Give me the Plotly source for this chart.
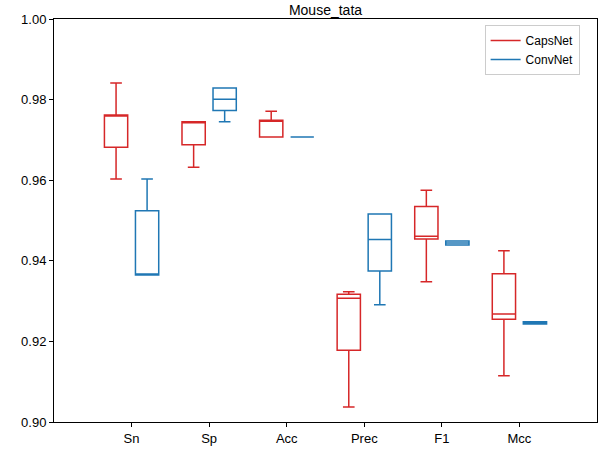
import plotly.graph_objects as go

# Datos (estadisticos de cada caja)
categorias = ["Sn", "Sp", "Acc", "Prec", "F1", "Mcc"]

caps_min = [0.9603, 0.9632, 0.9707, 0.9037, 0.9348, 0.9115]
caps_q1 = [0.9682, 0.9688, 0.9707, 0.9178, 0.9454, 0.9255]
caps_med = [0.9762, 0.9745, 0.9749, 0.9307, 0.9461, 0.9268]
caps_q3 = [0.9762, 0.9745, 0.9749, 0.9317, 0.9535, 0.9368]
caps_max = [0.9841, 0.9745, 0.9771, 0.9323, 0.9575, 0.9425]

conv_min = [0.9365, 0.9745, 0.9707, 0.9291, 0.9439, 0.9243]
conv_q1 = [0.9365, 0.9773, 0.9707, 0.9375, 0.9439, 0.9243]
conv_med = [0.9365, 0.9801, 0.9707, 0.9453, 0.9444, 0.9246]
conv_q3 = [0.9524, 0.9829, 0.9707, 0.9516, 0.9449, 0.9249]
conv_max = [0.9603, 0.9829, 0.9707, 0.9516, 0.9449, 0.9249]

rojo = "#d62728"
azul = "#1f77b4"

trace1 = go.Box(x=categorias, q1=caps_q1, median=caps_med, q3=caps_q3,
                lowerfence=caps_min, upperfence=caps_max, name="CapsNet",
                line=dict(color=rojo, width=1.5), fillcolor="rgba(0,0,0,0)",
                whiskerwidth=0.5, showlegend=False)
trace2 = go.Box(x=categorias, q1=conv_q1, median=conv_med, q3=conv_q3,
                lowerfence=conv_min, upperfence=conv_max, name="ConvNet",
                line=dict(color=azul, width=1.5), fillcolor="rgba(0,0,0,0)",
                whiskerwidth=0.5, showlegend=False)
# lineas solo para la leyenda
leg1 = go.Scatter(x=[None], y=[None], mode="lines", name="CapsNet", line=dict(color=rojo, width=1.5))
leg2 = go.Scatter(x=[None], y=[None], mode="lines", name="ConvNet", line=dict(color=azul, width=1.5))

fig = go.Figure(data=[trace1, trace2, leg1, leg2])
fig.update_layout(
    width=615, height=460,
    margin=dict(l=54, r=18, t=19, b=38),
    paper_bgcolor="white", plot_bgcolor="white",
    font=dict(family="Liberation Sans, Arial", size=13, color="black"),
    title=dict(text="Mouse_tata", x=0.5, xref="paper", xanchor="center",
               y=1, yref="paper", yanchor="bottom", pad=dict(b=4), font=dict(size=14)),
    boxmode="group", boxgap=0.2, boxgroupgap=0.25,
    legend=dict(x=0.968, y=0.985, xanchor="right", yanchor="top",
                bordercolor="#cccccc", borderwidth=1, bgcolor="white",
                font=dict(size=12)),
)
fig.update_xaxes(type="category", categoryorder="array", categoryarray=categorias,
                 range=[-1, 6], showline=True, mirror=True, linecolor="black", linewidth=1,
                 ticks="outside", ticklen=4, tickcolor="black", showgrid=False, zeroline=False)
fig.update_yaxes(range=[0.90, 1.00], tickvals=[0.90, 0.92, 0.94, 0.96, 0.98, 1.00],
                 tickformat=".2f", showline=True, mirror=True, linecolor="black", linewidth=1,
                 ticks="outside", ticklen=4, tickcolor="black", showgrid=False, zeroline=False)

# quitamos el margen del body para que la figura quede en la esquina
fig.write_html("out.html", config={"displayModeBar": False},
               post_script="document.body.style.margin='0';")
